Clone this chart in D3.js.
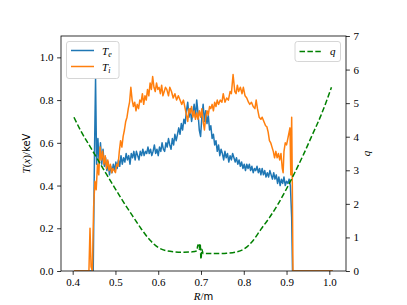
<!DOCTYPE html>
<html><head><meta charset="utf-8">
<script src="https://cdn.jsdelivr.net/npm/d3@7"></script>
<style>body{margin:0;background:#fff} svg text{font-family:"Liberation Serif",serif;fill:#000}</style>
</head><body><svg id="c" width="407" height="305"></svg>
<script>
// ---- data ----
const xTicks = [0.4,0.5,0.6,0.7,0.8,0.9,1.0];
const yTicks = [0.0,0.2,0.4,0.6,0.8,1.0];
const qTicks = [0,1,2,3,4,5,6,7];

const teR = [0.403,0.448,0.451,0.4535,0.456,0.459,0.462,0.465,0.468,0.471,0.474,0.477,0.480,0.483,0.486,0.489,0.492,0.495,0.498,0.501,0.504,0.507,0.510,0.513,0.516,0.519,0.522,0.525,0.528,0.531,0.534,0.537,0.540,0.543,0.546,0.549,0.552,0.555,0.558,0.561,0.564,0.567,0.570,0.573,0.576,0.579,0.582,0.585,0.588,0.591,0.594,0.597,0.600,0.603,0.606,0.609,0.612,0.615,0.618,0.621,0.624,0.627,0.630,0.633,0.636,0.639,0.642,0.645,0.648,0.651,0.654,0.657,0.660,0.663,0.666,0.669,0.672,0.675,0.678,0.681,0.684,0.687,0.690,0.693,0.696,0.699,0.702,0.705,0.708,0.711,0.714,0.717,0.720,0.723,0.726,0.729,0.732,0.735,0.738,0.741,0.744,0.747,0.750,0.753,0.756,0.759,0.762,0.765,0.768,0.771,0.774,0.777,0.780,0.783,0.786,0.789,0.792,0.795,0.798,0.801,0.804,0.807,0.810,0.813,0.816,0.819,0.822,0.825,0.828,0.831,0.834,0.837,0.840,0.843,0.846,0.849,0.852,0.855,0.858,0.861,0.864,0.867,0.870,0.873,0.876,0.879,0.882,0.885,0.888,0.891,0.894,0.897,0.900,0.903,0.906,0.909,0.912,0.914,1.008];
const teVal = [0,0,0.55,0.90,0.50,0.62,0.50,0.60,0.50,0.57,0.49,0.53,0.47,0.51,0.45,0.49,0.46,0.50,0.47,0.51,0.48,0.52,0.49,0.54,0.50,0.53,0.51,0.55,0.52,0.54,0.50,0.55,0.53,0.56,0.52,0.56,0.54,0.52,0.56,0.54,0.57,0.54,0.56,0.55,0.58,0.55,0.57,0.54,0.56,0.59,0.55,0.57,0.54,0.58,0.56,0.60,0.57,0.56,0.60,0.58,0.62,0.59,0.57,0.62,0.59,0.64,0.61,0.64,0.67,0.64,0.69,0.66,0.71,0.69,0.75,0.79,0.72,0.76,0.70,0.74,0.78,0.72,0.80,0.74,0.66,0.63,0.72,0.78,0.70,0.75,0.69,0.73,0.66,0.68,0.62,0.64,0.59,0.61,0.56,0.59,0.54,0.57,0.55,0.52,0.56,0.53,0.55,0.51,0.54,0.52,0.55,0.53,0.51,0.53,0.50,0.52,0.49,0.51,0.48,0.50,0.47,0.50,0.48,0.50,0.47,0.49,0.46,0.48,0.47,0.49,0.46,0.48,0.45,0.48,0.45,0.47,0.44,0.46,0.44,0.47,0.45,0.43,0.46,0.43,0.45,0.41,0.44,0.40,0.43,0.41,0.44,0.40,0.42,0.41,0.43,0.40,0.25,0,0];

const tiR = [0.403,0.438,0.4405,0.443,0.446,0.449,0.452,0.455,0.458,0.461,0.464,0.467,0.470,0.473,0.476,0.479,0.482,0.485,0.488,0.491,0.494,0.497,0.500,0.503,0.506,0.509,0.512,0.515,0.518,0.521,0.524,0.527,0.530,0.533,0.536,0.539,0.542,0.545,0.548,0.551,0.554,0.557,0.560,0.563,0.566,0.569,0.572,0.575,0.578,0.581,0.584,0.587,0.590,0.593,0.596,0.599,0.602,0.605,0.608,0.611,0.614,0.617,0.620,0.624,0.627,0.631,0.635,0.639,0.643,0.647,0.651,0.655,0.659,0.663,0.667,0.669,0.672,0.675,0.678,0.681,0.684,0.687,0.690,0.693,0.696,0.699,0.702,0.705,0.708,0.711,0.714,0.717,0.720,0.723,0.726,0.729,0.732,0.735,0.738,0.741,0.745,0.749,0.752,0.756,0.760,0.764,0.768,0.771,0.775,0.779,0.782,0.785,0.788,0.792,0.796,0.799,0.803,0.807,0.811,0.814,0.818,0.822,0.826,0.829,0.832,0.836,0.840,0.843,0.847,0.851,0.854,0.857,0.860,0.863,0.866,0.869,0.872,0.875,0.878,0.881,0.884,0.887,0.890,0.892,0.894,0.897,0.900,0.903,0.906,0.908,0.910,0.912,0.9135,0.915,1.008];
const tiVal = [0,0,0.20,0.02,0.0,0.30,0.42,0.38,0.50,0.45,0.58,0.52,0.56,0.50,0.54,0.48,0.52,0.47,0.50,0.46,0.48,0.47,0.46,0.50,0.49,0.56,0.61,0.58,0.63,0.66,0.70,0.72,0.76,0.79,0.86,0.80,0.77,0.79,0.75,0.78,0.76,0.80,0.79,0.83,0.78,0.82,0.80,0.85,0.82,0.88,0.85,0.91,0.86,0.84,0.88,0.85,0.86,0.83,0.87,0.82,0.84,0.86,0.85,0.82,0.86,0.84,0.81,0.83,0.80,0.82,0.80,0.78,0.80,0.76,0.72,0.70,0.76,0.74,0.77,0.72,0.75,0.71,0.74,0.71,0.75,0.72,0.76,0.70,0.66,0.72,0.75,0.73,0.77,0.76,0.78,0.75,0.79,0.77,0.80,0.78,0.80,0.79,0.83,0.79,0.81,0.80,0.84,0.83,0.92,0.84,0.83,0.87,0.84,0.86,0.83,0.86,0.82,0.81,0.79,0.78,0.79,0.77,0.76,0.80,0.76,0.72,0.71,0.72,0.70,0.68,0.675,0.65,0.61,0.60,0.58,0.56,0.53,0.56,0.53,0.55,0.52,0.55,0.48,0.46,0.56,0.60,0.59,0.62,0.65,0.67,0.45,0.72,0.40,0,0];

const qR = [0.403,0.42,0.44,0.46,0.48,0.50,0.52,0.54,0.56,0.58,0.60,0.62,0.64,0.66,0.68,0.69,0.693,0.696,0.698,0.700,0.702,0.705,0.72,0.74,0.76,0.78,0.80,0.82,0.84,0.86,0.88,0.90,0.92,0.94,0.96,0.98,1.005];
const qVal = [4.58,4.15,3.72,3.29,2.86,2.44,2.03,1.64,1.26,0.93,0.70,0.60,0.57,0.56,0.57,0.60,0.78,0.65,0.82,0.35,0.65,0.52,0.52,0.52,0.53,0.56,0.65,0.88,1.24,1.59,1.99,2.45,2.95,3.48,4.05,4.62,5.47];

// ---- layout ----
const L=61,R=346,T=36,B=271, FS=11;
const svg=d3.select("#c");
const x=d3.scaleLinear().domain([0.3727,1.039]).range([L,R]);
const y=d3.scaleLinear().domain([0,1.1]).range([B,T]);
const y2=d3.scaleLinear().domain([0,7]).range([B,T]);

svg.append("defs").append("clipPath").attr("id","clip").append("rect")
  .attr("x",L).attr("y",T).attr("width",R-L).attr("height",B-T);

const line=(ys)=>d3.line().x(d=>x(d[0])).y(d=>ys(d[1]));
const g=svg.append("g").attr("clip-path","url(#clip)");
g.append("path").datum(d3.zip(teR,teVal)).attr("d",line(y)).attr("fill","none")
 .attr("stroke","#1f77b4").attr("stroke-width",1.5).attr("stroke-linejoin","round");
g.append("path").datum(d3.zip(tiR,tiVal)).attr("d",line(y)).attr("fill","none")
 .attr("stroke","#ff7f0e").attr("stroke-width",1.5).attr("stroke-linejoin","round");
g.append("path").datum(d3.zip(qR,qVal)).attr("d",d3.line().curve(d3.curveMonotoneX).x(d=>x(d[0])).y(d=>y2(d[1]))).attr("fill","none")
 .attr("stroke","#008000").attr("stroke-width",1.5).attr("stroke-dasharray","5.5,2.4");

// axes
function styleAxis(sel){
  sel.select(".domain").remove();
  sel.selectAll(".tick line").attr("stroke","#000").attr("stroke-width",0.8);
  sel.selectAll(".tick text").attr("font-size",FS).attr("font-family","Liberation Serif");
}
svg.append("g").attr("transform",`translate(0,${B})`)
  .call(d3.axisBottom(x).tickValues(xTicks).tickFormat(d3.format(".1f")).tickSize(3.9).tickPadding(3.6)).call(styleAxis);
svg.append("g").attr("transform",`translate(${L},0)`)
  .call(d3.axisLeft(y).tickValues(yTicks).tickFormat(d3.format(".1f")).tickSize(3.9).tickPadding(3.6)).call(styleAxis);
svg.append("g").attr("transform",`translate(${R},0)`)
  .call(d3.axisRight(y2).tickValues(qTicks).tickFormat(d3.format("d")).tickSize(3.9).tickPadding(3.6)).call(styleAxis);

svg.append("rect").attr("x",L).attr("y",T).attr("width",R-L).attr("height",B-T)
  .attr("fill","none").attr("stroke","#000").attr("stroke-width",0.8);

// axis labels
const xl=svg.append("text").attr("x",(L+R)/2).attr("y",300).attr("text-anchor","middle").attr("font-size",FS);
xl.append("tspan").attr("font-style","italic").text("R");
xl.append("tspan").text("/");
xl.append("tspan").attr("style","font-family:'DejaVu Sans'").attr("font-size",10).text("m");

const yl=svg.append("text").attr("transform",`translate(30,${(T+B)/2}) rotate(-90)`).attr("text-anchor","middle").attr("font-size",FS);
yl.append("tspan").attr("font-style","italic").text("T");
yl.append("tspan").text("(");
yl.append("tspan").attr("font-style","italic").text("x");
yl.append("tspan").text(")/");
yl.append("tspan").attr("style","font-family:'DejaVu Sans'").attr("font-size",10).text("keV");

svg.append("text").attr("transform",`translate(370,${(T+B)/2}) rotate(-90)`).attr("text-anchor","middle")
  .attr("font-size",FS).attr("font-style","italic").text("q");

// legends
function legendBox(x0,y0,w,h){
  svg.append("rect").attr("x",x0).attr("y",y0).attr("width",w).attr("height",h).attr("rx",2.5)
   .attr("fill","#fff").attr("fill-opacity",0.8).attr("stroke","#cccccc").attr("stroke-width",0.8);
}
legendBox(66.5,41.5,52.5,37);
const leg1=[{c:"#1f77b4",s:"e",yy:50.5},{c:"#ff7f0e",s:"i",yy:66.5}];
leg1.forEach(d=>{
  svg.append("line").attr("x1",71).attr("x2",94).attr("y1",d.yy).attr("y2",d.yy).attr("stroke",d.c).attr("stroke-width",1.5);
  const t=svg.append("text").attr("x",102).attr("y",d.yy+4).attr("font-size",FS).attr("font-style","italic");
  t.append("tspan").text("T");
  t.append("tspan").attr("font-size",8).attr("dy",2.5).text(d.s);
});
legendBox(295,41.5,45.5,20);
svg.append("line").attr("x1",299.5).attr("x2",322).attr("y1",51.5).attr("y2",51.5)
  .attr("stroke","#008000").attr("stroke-width",1.5).attr("stroke-dasharray","5.5,2.4");
svg.append("text").attr("x",330).attr("y",55).attr("font-size",FS).attr("font-style","italic").text("q");
</script></body></html>
